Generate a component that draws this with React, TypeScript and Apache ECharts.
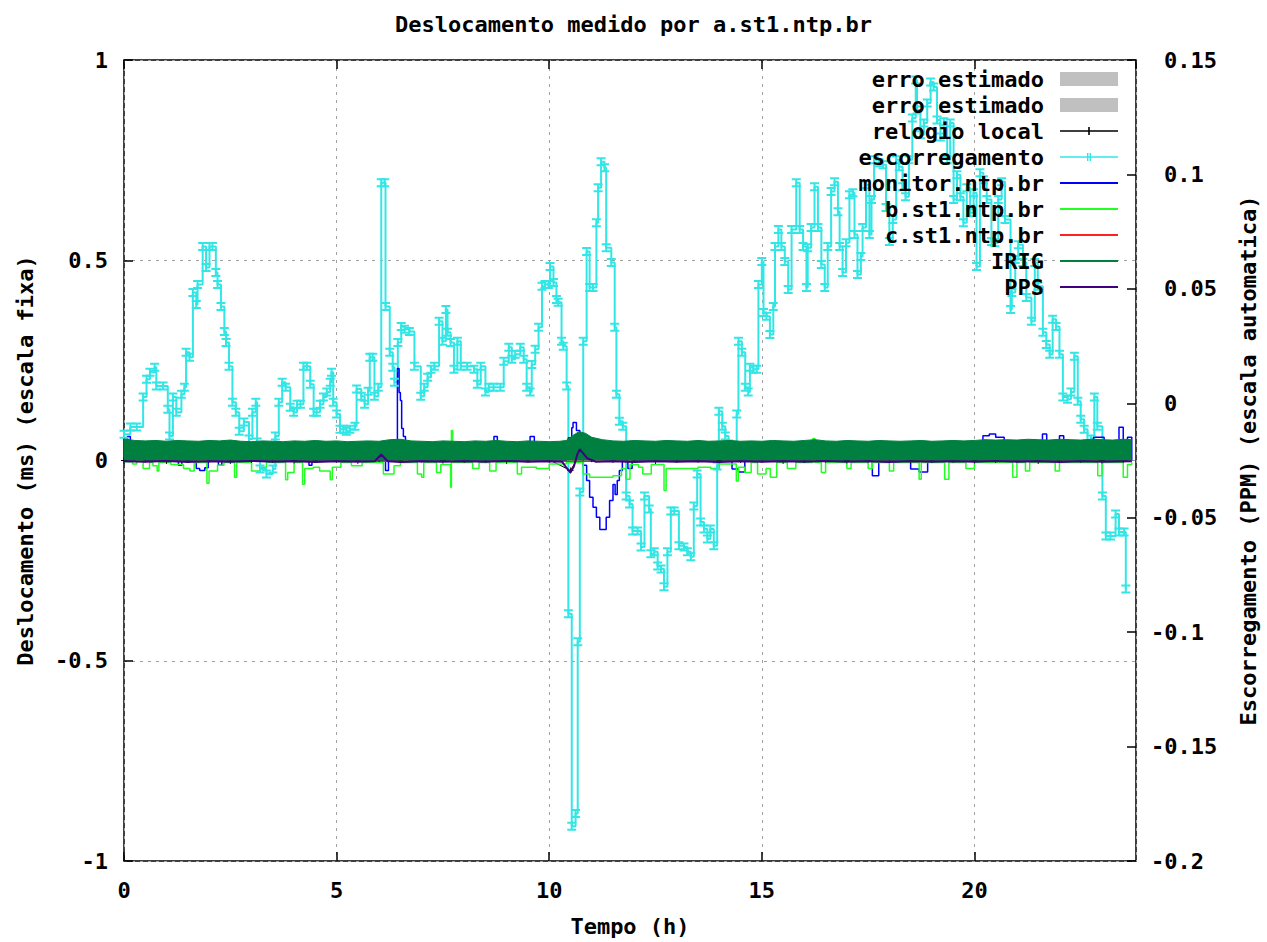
import React, { useEffect, useRef } from 'react';
import * as echarts from 'echarts';

// ---------- texts ----------
const TITLE = 'Deslocamento medido por a.st1.ntp.br';
const X_NAME = 'Tempo (h)';
const Y1_NAME = 'Deslocamento (ms) (escala fixa)';
const Y2_NAME = 'Escorregamento (PPM) (escala automatica)';

// ---------- axes ----------
const X_MIN = 0;
const X_MAX = 23.8;
const X_STEP = 5;
const Y1_MIN = -1;
const Y1_MAX = 1;
const Y1_STEP = 0.5;
const Y2_MIN = -0.2;
const Y2_MAX = 0.15;
const Y2_STEP = 0.05;

// ---------- series values: [hours, value] ----------
// escorregamento (PPM, right axis)
const escorregamento: [number, number][] = [
  [0.0, -0.0135], [0.15, -0.0104], [0.3, -0.0104], [0.45, 0.0027], [0.53, 0.0105], [0.61, 0.0136],
  [0.72, 0.0157], [0.76, 0.0075], [0.92, 0.0075], [1.03, -0.0026], [1.07, -0.0143], [1.15, 0.0027],
  [1.23, -0.0039], [1.35, 0.004], [1.42, 0.007], [1.46, 0.0223], [1.54, 0.0201], [1.62, 0.0484],
  [1.7, 0.0432], [1.73, 0.0519], [1.85, 0.0685], [1.93, 0.0593], [2.01, 0.0685], [2.08, 0.0685],
  [2.16, 0.0572], [2.2, 0.0519], [2.28, 0.0423], [2.36, 0.0314], [2.4, 0.0266], [2.47, 0.0162],
  [2.55, 0.0005], [2.63, -0.0039], [2.71, -0.0122], [2.82, -0.0082], [2.94, -0.0156], [3.02, -0.0039],
  [3.1, 0.0005], [3.13, -0.0169], [3.2, -0.0287], [3.35, -0.0309], [3.5, -0.0287], [3.56, -0.0143],
  [3.64, 0.0005], [3.72, 0.0092], [3.8, 0.007], [3.91, -0.0017], [3.99, -0.0039], [4.07, -0.0004],
  [4.15, -0.0004], [4.22, 0.0162], [4.3, 0.0162], [4.38, 0.0083], [4.46, -0.0039], [4.53, -0.0039],
  [4.61, -0.0004], [4.69, 0.0027], [4.77, 0.0049], [4.85, 0.0092], [4.88, 0.0136], [4.92, 0.0005],
  [5.0, -0.0047], [5.08, -0.0113], [5.16, -0.0113], [5.23, -0.0122], [5.31, -0.0113], [5.43, -0.01],
  [5.47, 0.0062], [5.58, 0.0031], [5.66, -0.0004], [5.74, 0.0053], [5.78, 0.0201], [5.85, 0.0201],
  [5.89, 0.0031], [5.98, 0.007], [6.05, 0.0964], [6.13, 0.0964], [6.15, 0.0423], [6.25, 0.0223],
  [6.32, 0.0157], [6.36, 0.0092], [6.44, 0.0266], [6.52, 0.0336], [6.6, 0.0323], [6.71, 0.0314],
  [6.83, 0.0162], [6.98, 0.0031], [7.06, 0.007], [7.14, 0.0114], [7.22, 0.0149], [7.3, 0.0162],
  [7.41, 0.0358], [7.49, 0.0271], [7.57, 0.041], [7.61, 0.031], [7.68, 0.0266], [7.76, 0.0149],
  [7.84, 0.0271], [7.92, 0.0162], [8.07, 0.0162], [8.23, 0.0149], [8.31, 0.0083], [8.39, 0.0162],
  [8.5, 0.0049], [8.58, 0.007], [8.69, 0.007], [8.85, 0.007], [8.93, 0.0184], [9.05, 0.0245],
  [9.12, 0.0192], [9.2, 0.0214], [9.32, 0.0245], [9.4, 0.0192], [9.47, 0.007], [9.55, 0.0049],
  [9.59, 0.017], [9.67, 0.0236], [9.75, 0.0332], [9.83, 0.0511], [9.9, 0.0519], [9.98, 0.0519],
  [10.02, 0.0598], [10.1, 0.0528], [10.17, 0.0454], [10.21, 0.0441], [10.29, 0.0271], [10.33, 0.0249],
  [10.41, 0.0075], [10.45, -0.092], [10.53, -0.1848], [10.62, -0.1792], [10.67, -0.1042], [10.72, -0.0388],
  [10.8, 0.0271], [10.88, 0.0663], [10.95, 0.0506], [11.03, 0.0506], [11.11, 0.0789], [11.15, 0.0942],
  [11.22, 0.1055], [11.3, 0.1029], [11.34, 0.068], [11.46, 0.0615], [11.54, 0.0332], [11.58, 0.004],
  [11.65, -0.0078], [11.73, -0.01], [11.81, -0.0405], [11.89, -0.044], [11.96, -0.0558], [12.08, -0.0558],
  [12.16, -0.0628], [12.24, -0.0405], [12.35, -0.0462], [12.39, -0.0658], [12.47, -0.0649], [12.55, -0.0711],
  [12.63, -0.0724], [12.7, -0.0802], [12.78, -0.0649], [12.86, -0.0471], [12.94, -0.0471], [13.05, -0.0623],
  [13.17, -0.0628], [13.25, -0.0649], [13.33, -0.0671], [13.4, -0.0449], [13.48, -0.0309], [13.56, -0.0519],
  [13.64, -0.0549], [13.72, -0.0593], [13.79, -0.0549], [13.87, -0.0623], [13.95, -0.0274], [13.99, -0.0035],
  [14.07, -0.01], [14.14, -0.0143], [14.22, -0.0178], [14.33, -0.02], [14.41, -0.0047], [14.45, 0.0271],
  [14.53, 0.0223], [14.61, 0.007], [14.68, 0.0049], [14.72, 0.0157], [14.8, 0.0149], [14.88, 0.0149],
  [14.92, 0.0519], [15.0, 0.0619], [15.04, 0.0397], [15.11, 0.038], [15.19, 0.0301], [15.27, 0.0423],
  [15.31, 0.0685], [15.39, 0.0759], [15.46, 0.0685], [15.54, 0.0619], [15.62, 0.0497], [15.7, 0.0759],
  [15.81, 0.0964], [15.89, 0.0759], [15.97, 0.0685], [16.05, 0.0506], [16.08, 0.068], [16.16, 0.0768],
  [16.24, 0.0946], [16.32, 0.0768], [16.4, 0.0606], [16.48, 0.0506], [16.55, 0.0685], [16.63, 0.0925],
  [16.71, 0.0968], [16.79, 0.0837], [16.83, 0.0685], [16.9, 0.0572], [16.98, 0.0702], [17.06, 0.0911],
  [17.14, 0.092], [17.18, 0.0737], [17.25, 0.0563], [17.33, 0.0641], [17.37, 0.0768], [17.45, 0.0955],
  [17.53, 0.0737], [17.58, 0.089], [17.64, 0.1064], [17.76, 0.1051], [17.85, 0.1042], [17.92, 0.0855],
  [18.0, 0.0707], [18.08, 0.0803], [18.16, 0.1064], [18.23, 0.1034], [18.31, 0.0946], [18.38, 0.0903],
  [18.46, 0.1064], [18.54, 0.1247], [18.62, 0.1413], [18.65, 0.1282], [18.73, 0.1173], [18.81, 0.1225],
  [18.89, 0.1312], [18.97, 0.1404], [19.04, 0.1382], [19.12, 0.1238], [19.2, 0.1164], [19.28, 0.123],
  [19.36, 0.1064], [19.43, 0.1225], [19.51, 0.089], [19.59, 0.0999], [19.67, 0.0903], [19.74, 0.0789],
  [19.82, 0.0942], [19.9, 0.0833], [19.98, 0.092], [20.05, 0.0598], [20.13, 0.1007], [20.21, 0.0977],
  [20.29, 0.089], [20.4, 0.0707], [20.48, 0.0702], [20.56, 0.089], [20.64, 0.0968], [20.72, 0.0803],
  [20.85, 0.041], [20.88, 0.0484], [20.96, 0.0628], [21.03, 0.0693], [21.14, 0.0615], [21.22, 0.0462],
  [21.34, 0.0358], [21.42, 0.0615], [21.49, 0.0511], [21.61, 0.031], [21.69, 0.0257], [21.77, 0.0214],
  [21.84, 0.0367], [21.92, 0.0336], [22.0, 0.0214], [22.08, 0.0027], [22.19, 0.0018], [22.27, 0.0049],
  [22.35, 0.0205], [22.43, 0.0009], [22.5, -0.007], [22.58, -0.0113], [22.66, -0.0178], [22.74, -0.0156],
  [22.82, 0.0027], [22.89, -0.01], [23.01, -0.0405], [23.09, -0.058], [23.2, -0.058], [23.32, -0.0484],
  [23.4, -0.0562], [23.52, -0.0562], [23.56, -0.0811],
];

// monitor.ntp.br (ms)
const monitor: [number, number][] = [
  [0.0, 0.0], [0.08, 0.06], [0.15, 0.0], [1.28, -0.012], [1.36, 0.0], [1.7, -0.02], [1.78, -0.025],
  [1.9, -0.018], [1.98, 0.0], [2.22, -0.012], [2.3, 0.0], [4.35, -0.012], [4.42, 0.0], [6.15, -0.025],
  [6.22, 0.0], [6.4, 0.02], [6.43, 0.23], [6.47, 0.17], [6.5, 0.15], [6.53, 0.08], [6.57, 0.06],
  [6.62, 0.02], [6.7, 0.0], [8.7, 0.06], [8.78, 0.0], [9.55, 0.06], [9.65, 0.0], [10.4, 0.03],
  [10.45, 0.057], [10.53, 0.082], [10.56, 0.095], [10.64, 0.075], [10.72, 0.007], [10.8, -0.012],
  [10.88, -0.05], [10.95, -0.092], [11.03, -0.117], [11.11, -0.142], [11.19, -0.172], [11.26, -0.172],
  [11.34, -0.142], [11.42, -0.1], [11.5, -0.06], [11.55, -0.085], [11.6, -0.05], [11.65, -0.025],
  [11.72, 0.0], [11.85, -0.02], [11.95, 0.0], [14.3, -0.021], [14.45, -0.029], [14.6, 0.0],
  [17.6, -0.038], [17.75, 0.0], [18.5, -0.021], [18.7, -0.029], [18.9, 0.0], [20.2, 0.062],
  [20.35, 0.066], [20.5, 0.058], [20.7, 0.0], [21.6, 0.066], [21.7, 0.0], [22.0, 0.062], [22.1, 0.0],
  [22.8, 0.058], [23.05, 0.0], [23.4, 0.083], [23.5, 0.0], [23.6, 0.058], [23.7, 0.0],
];

// b.st1.ntp.br (ms)
const bSt1: [number, number][] = [
  [0.0, -0.003], [0.2, -0.009], [0.3, 0.0], [0.45, -0.02], [0.6, -0.005], [0.68, -0.013], [0.78, -0.026],
  [0.82, -0.005], [1.1, -0.01], [1.4, -0.02], [1.55, -0.026], [1.65, -0.005], [1.95, -0.057], [2.0, -0.026],
  [2.2, -0.012], [2.35, -0.005], [2.6, -0.042], [2.65, -0.005], [3.0, -0.026], [3.2, -0.017], [3.35, -0.005],
  [3.8, -0.048], [3.85, -0.03], [4.0, -0.005], [4.2, -0.059], [4.25, -0.02], [4.45, -0.017], [4.6, -0.026],
  [4.85, -0.048], [4.9, -0.017], [5.1, -0.005], [5.35, -0.013], [5.6, -0.005], [6.1, -0.034], [6.35, -0.013],
  [6.5, -0.005], [6.9, -0.034], [7.0, -0.042], [7.05, -0.005], [7.35, -0.03], [7.45, -0.01], [7.68, -0.067],
  [7.7, 0.075], [7.73, -0.005], [8.2, -0.02], [8.35, -0.005], [8.6, -0.026], [8.75, -0.005], [9.25, -0.034],
  [9.35, -0.017], [9.7, -0.02], [10.0, -0.009], [10.4, -0.005], [10.8, -0.034], [10.95, -0.042], [11.5, -0.038],
  [11.7, -0.02], [11.8, -0.047], [11.9, -0.01], [12.1, -0.017], [12.2, -0.034], [12.4, -0.01], [12.7, -0.075],
  [12.75, -0.02], [13.0, -0.02], [13.5, -0.017], [13.8, -0.02], [14.0, -0.009], [14.4, -0.051], [14.45, -0.017],
  [14.6, -0.03], [14.75, -0.005], [14.9, -0.034], [15.1, -0.02], [15.2, -0.042], [15.35, -0.005], [15.6, -0.02],
  [15.8, -0.005], [16.2, 0.055], [16.25, -0.005], [16.4, -0.03], [16.5, -0.005], [17.0, -0.02], [17.1, -0.005],
  [17.5, -0.02], [17.6, -0.005], [18.0, -0.026], [18.1, -0.005], [18.7, -0.047], [18.75, -0.005], [19.3, -0.047],
  [19.4, -0.005], [19.8, -0.02], [20.0, -0.005], [20.9, -0.042], [21.0, -0.005], [21.2, -0.026], [21.3, -0.005],
  [21.9, -0.026], [22.0, -0.005], [22.9, -0.038], [23.0, -0.005], [23.5, -0.042], [23.6, -0.01], [23.7, -0.005],
];

// c.st1.ntp.br (ms) - not visible in the picture: lies on the zero line under PPS
const cSt1: [number, number][] = [
  [0.0, -0.002], [6.0, -0.002], [12.0, -0.002], [18.0, -0.002], [23.7, -0.002],
];

// IRIG (ms) - upper envelope of the dense band
const irig: [number, number][] = [
  [0.0, 0.054], [0.25, 0.05], [0.5, 0.049], [0.75, 0.05], [1.0, 0.048], [1.25, 0.05], [1.5, 0.049],
  [1.75, 0.048], [2.0, 0.05], [2.25, 0.049], [2.5, 0.051], [2.75, 0.048], [3.0, 0.047], [3.25, 0.049],
  [3.5, 0.048], [3.75, 0.047], [4.0, 0.049], [4.25, 0.048], [4.5, 0.05], [4.75, 0.048], [5.0, 0.049],
  [5.25, 0.047], [5.5, 0.048], [5.75, 0.049], [6.0, 0.048], [6.25, 0.052], [6.5, 0.053], [6.75, 0.049],
  [7.0, 0.048], [7.25, 0.047], [7.5, 0.049], [7.75, 0.048], [8.0, 0.047], [8.25, 0.049], [8.5, 0.048],
  [8.75, 0.05], [9.0, 0.048], [9.25, 0.047], [9.5, 0.049], [9.75, 0.048], [10.0, 0.047], [10.25, 0.048],
  [10.4, 0.05], [10.55, 0.062], [10.7, 0.072], [10.85, 0.068], [11.0, 0.058], [11.25, 0.052], [11.5, 0.049],
  [11.75, 0.048], [12.0, 0.05], [12.25, 0.049], [12.5, 0.048], [12.75, 0.05], [13.0, 0.049], [13.25, 0.048],
  [13.5, 0.05], [13.75, 0.048], [14.0, 0.049], [14.25, 0.05], [14.5, 0.048], [14.75, 0.049], [15.0, 0.048],
  [15.25, 0.05], [15.5, 0.049], [15.75, 0.048], [16.0, 0.05], [16.25, 0.052], [16.5, 0.049], [16.75, 0.048],
  [17.0, 0.05], [17.25, 0.049], [17.5, 0.048], [17.75, 0.05], [18.0, 0.049], [18.25, 0.048], [18.5, 0.049],
  [18.75, 0.05], [19.0, 0.048], [19.25, 0.049], [19.5, 0.05], [19.75, 0.049], [20.0, 0.05], [20.25, 0.052],
  [20.5, 0.051], [20.75, 0.052], [21.0, 0.051], [21.25, 0.053], [21.5, 0.052], [21.75, 0.051], [22.0, 0.053],
  [22.25, 0.052], [22.5, 0.051], [22.75, 0.053], [23.0, 0.052], [23.25, 0.051], [23.5, 0.053], [23.7, 0.052],
];

// PPS (ms)
const pps: [number, number][] = [
  [0.0, -0.002], [0.5, -0.003], [1.0, -0.001], [1.5, -0.004], [2.0, -0.002], [2.5, -0.003], [3.0, -0.001],
  [3.5, -0.003], [4.0, -0.002], [4.5, -0.004], [5.0, -0.002], [5.5, -0.003], [5.9, -0.002], [6.05, 0.015],
  [6.2, -0.002], [6.5, -0.004], [7.0, -0.002], [7.5, -0.003], [8.0, -0.002], [8.5, -0.003], [9.0, -0.001],
  [9.5, -0.003], [10.0, -0.002], [10.3, -0.003], [10.42, -0.02], [10.5, -0.03], [10.58, -0.015], [10.66, 0.015],
  [10.72, 0.028], [10.8, 0.018], [10.9, 0.005], [11.1, -0.003], [11.5, -0.002], [12.0, -0.004], [12.5, -0.002],
  [13.0, -0.003], [13.5, -0.002], [14.0, -0.004], [14.5, -0.002], [15.0, -0.003], [15.5, -0.002], [16.0, -0.003],
  [16.5, -0.001], [17.0, -0.003], [17.5, -0.002], [18.0, -0.004], [18.5, -0.002], [19.0, -0.003], [19.5, -0.002],
  [20.0, -0.003], [20.5, -0.001], [21.0, -0.003], [21.5, -0.002], [22.0, -0.004], [22.5, -0.002], [23.0, -0.003],
  [23.7, -0.002],
];

// relogio local (ms)
const relogio: [number, number][] = [
  [0.0, 0.0], [0.5, 0.002], [1.0, -0.001], [1.5, 0.001], [2.0, 0.002], [2.5, -0.001], [3.0, 0.001],
  [3.5, 0.002], [4.0, 0.0], [4.5, 0.001], [5.0, 0.002], [5.5, -0.001], [6.0, 0.004], [6.5, 0.001],
  [7.0, 0.002], [7.5, 0.0], [8.0, 0.001], [8.5, 0.002], [9.0, -0.001], [9.5, 0.001], [10.0, 0.002],
  [10.5, -0.025], [10.75, 0.02], [11.0, 0.003], [11.5, 0.001], [12.0, 0.002], [12.5, -0.001], [13.0, 0.001],
  [13.5, 0.002], [14.0, 0.0], [14.5, 0.001], [15.0, 0.002], [15.5, -0.001], [16.0, 0.001], [16.5, 0.002],
  [17.0, 0.0], [17.5, 0.001], [18.0, 0.002], [18.5, -0.001], [19.0, 0.001], [19.5, 0.002], [20.0, 0.0],
  [20.5, 0.001], [21.0, 0.002], [21.5, -0.001], [22.0, 0.001], [22.5, 0.002], [23.0, 0.0], [23.5, 0.001],
];

// erro estimado (ms) - gray bands, hidden beneath the other curves
const erro1: [number, number][] = [[0.0, 0.01], [23.7, 0.01]];
const erro2: [number, number][] = [[0.0, 0.008], [23.7, 0.008]];

// ---------- style ----------
const FONT = "'DejaVu Sans Mono', monospace";
const FS = 22;
const C_GRAY = '#c0c0c0';
const C_BLACK = '#000000';
const C_CYAN = '#33e6e6';
const C_BLUE = '#0000ff';
const C_GREEN = '#22ff22';
const C_RED = '#ff2020';
const C_IRIG = '#008040';
const C_PPS = '#400080';

const ICON_LINE = 'path://M0,0H58V2H0Z';
const ICON_PLUS = 'path://M0,3.2H58V4.8H0Z M28.2,0H29.8V8H28.2Z';
const ICON_ESC = 'path://M0,3.2H58V4.8H0Z M27,0H28.4V8H27Z M29.6,0H31V8H29.6Z';
const SYM_IBEAM = 'path://M0,0H9V2H0Z M3.5,0H5.5V9H3.5Z M0,7H9V9H0Z';
const SYM_PLUS = 'path://M0,3H7V4H0Z M3,0H4V7H3Z';

const txt = { fontFamily: FONT, fontSize: FS, fontWeight: 'bold' as const, color: '#000' };

function buildOption() {
  const tickStyle = { inside: true, length: 9, lineStyle: { color: '#000', width: 1.5 } };
  const gridLine = { show: true, lineStyle: { type: [3, 5], color: '#a0a0a0', width: 1 } };
  const noLine = { show: false, onZero: false };
  const lineSeries = (extra: any) => ({
    type: 'line',
    silent: true,
    symbol: 'none',
    showSymbol: false,
    emphasis: { disabled: true },
    ...extra,
  });

  return {
    animation: false,
    backgroundColor: '#ffffff',
    title: {
      text: TITLE,
      left: 'center',
      top: 8,
      textStyle: txt,
    },
    grid: {
      left: 124,
      right: 123,
      top: 60,
      bottom: 79,
      show: true,
      borderColor: '#000',
      borderWidth: 1.5,
      backgroundColor: 'transparent',
    },
    legend: {
      orient: 'vertical',
      right: 144,
      top: 63,
      align: 'right',
      itemWidth: 58,
      itemHeight: 14,
      itemGap: 4,
      selectedMode: false,
      z: 10,
      textStyle: { ...txt, padding: [0, 11, 0, 0] },
      formatter: (n: string) => n.replace(/ \d$/, ''),
      data: [
        { name: 'erro estimado 1', icon: 'rect', itemStyle: { color: C_GRAY, borderWidth: 0 } },
        { name: 'erro estimado 2', icon: 'rect', itemStyle: { color: C_GRAY, borderWidth: 0 } },
        { name: 'relogio local', icon: ICON_PLUS, itemStyle: { color: C_BLACK, borderWidth: 0 } },
        { name: 'escorregamento', icon: ICON_ESC, itemStyle: { color: C_CYAN, borderWidth: 0 } },
        { name: 'monitor.ntp.br', icon: ICON_LINE, itemStyle: { color: C_BLUE, borderWidth: 0 } },
        { name: 'b.st1.ntp.br', icon: ICON_LINE, itemStyle: { color: C_GREEN, borderWidth: 0 } },
        { name: 'c.st1.ntp.br', icon: ICON_LINE, itemStyle: { color: C_RED, borderWidth: 0 } },
        { name: 'IRIG', icon: ICON_LINE, itemStyle: { color: C_IRIG, borderWidth: 0 } },
        { name: 'PPS', icon: ICON_LINE, itemStyle: { color: C_PPS, borderWidth: 0 } },
      ],
    },
    xAxis: [
      {
        type: 'value',
        min: X_MIN,
        max: X_MAX,
        interval: X_STEP,
        position: 'bottom',
        name: X_NAME,
        nameLocation: 'middle',
        nameGap: 54,
        nameTextStyle: txt,
        axisLine: noLine,
        axisTick: tickStyle,
        axisLabel: { ...txt, margin: 18, showMaxLabel: false },
        splitLine: gridLine,
      },
      {
        type: 'value',
        min: X_MIN,
        max: X_MAX,
        interval: X_STEP,
        position: 'top',
        axisLine: noLine,
        axisTick: tickStyle,
        axisLabel: { show: false },
        splitLine: { show: false },
      },
    ],
    yAxis: [
      {
        type: 'value',
        min: Y1_MIN,
        max: Y1_MAX,
        interval: Y1_STEP,
        position: 'left',
        name: Y1_NAME,
        nameLocation: 'middle',
        nameGap: 88,
        nameTextStyle: txt,
        axisLine: noLine,
        axisTick: tickStyle,
        axisLabel: { ...txt, margin: 16 },
        splitLine: gridLine,
      },
      {
        type: 'value',
        min: Y2_MIN,
        max: Y2_MAX,
        interval: Y2_STEP,
        position: 'right',
        name: Y2_NAME,
        nameLocation: 'middle',
        nameGap: 101,
        nameTextStyle: txt,
        axisLine: noLine,
        axisTick: tickStyle,
        axisLabel: {
          ...txt,
          margin: 15,
          formatter: (v: number) => {
            const s = String(+v.toFixed(4));
            return v >= 0 ? '{p|' + s + '}' : '{n|' + s + '}';
          },
          rich: {
            p: { ...txt, padding: [0, 0, 0, 13] },
            n: { ...txt },
          },
        },
        splitLine: { show: false },
      },
    ],
    series: [
      lineSeries({
        name: 'erro estimado 1',
        data: erro1,
        lineStyle: { width: 0, color: C_GRAY },
        itemStyle: { color: C_GRAY },
        areaStyle: { color: C_GRAY, opacity: 1 },
      }),
      lineSeries({
        name: 'erro estimado 2',
        data: erro2,
        lineStyle: { width: 0, color: C_GRAY },
        itemStyle: { color: C_GRAY },
        areaStyle: { color: C_GRAY, opacity: 1 },
      }),
      lineSeries({
        name: 'relogio local',
        data: relogio,
        symbol: SYM_PLUS,
        symbolSize: 6,
        showSymbol: true,
        lineStyle: { color: C_BLACK, width: 1 },
        itemStyle: { color: C_BLACK },
      }),
      lineSeries({
        name: 'escorregamento',
        yAxisIndex: 1,
        step: 'end',
        data: escorregamento,
        symbol: SYM_IBEAM,
        symbolSize: [9, 9],
        showSymbol: true,
        lineStyle: { color: C_CYAN, width: 2 },
        itemStyle: { color: C_CYAN },
      }),
      lineSeries({
        name: 'monitor.ntp.br',
        step: 'end',
        data: monitor,
        lineStyle: { color: C_BLUE, width: 1.5 },
        itemStyle: { color: C_BLUE },
      }),
      lineSeries({
        name: 'b.st1.ntp.br',
        step: 'end',
        data: bSt1,
        lineStyle: { color: C_GREEN, width: 1.5 },
        itemStyle: { color: C_GREEN },
      }),
      lineSeries({
        name: 'c.st1.ntp.br',
        data: cSt1,
        lineStyle: { color: C_RED, width: 1.5 },
        itemStyle: { color: C_RED },
      }),
      lineSeries({
        name: 'IRIG',
        z: 5,
        data: irig,
        lineStyle: { color: C_IRIG, width: 1 },
        itemStyle: { color: C_IRIG },
        areaStyle: { color: C_IRIG, opacity: 1 },
      }),
      lineSeries({
        name: 'PPS',
        z: 6,
        data: pps,
        lineStyle: { color: C_PPS, width: 2 },
        itemStyle: { color: C_PPS },
      }),
    ],
  };
}

export default function App() {
  const ref = useRef<HTMLDivElement>(null);
  useEffect(() => {
    if (!ref.current) return;
    const chart = echarts.init(ref.current, null, { renderer: 'svg' });
    chart.setOption(buildOption() as any);
    return () => {
      chart.dispose();
    };
  }, []);
  return (
    <div
      ref={ref}
      style={{ position: 'absolute', left: 0, top: 0, width: 1267, height: 942, background: '#fff' }}
    />
  );
}
